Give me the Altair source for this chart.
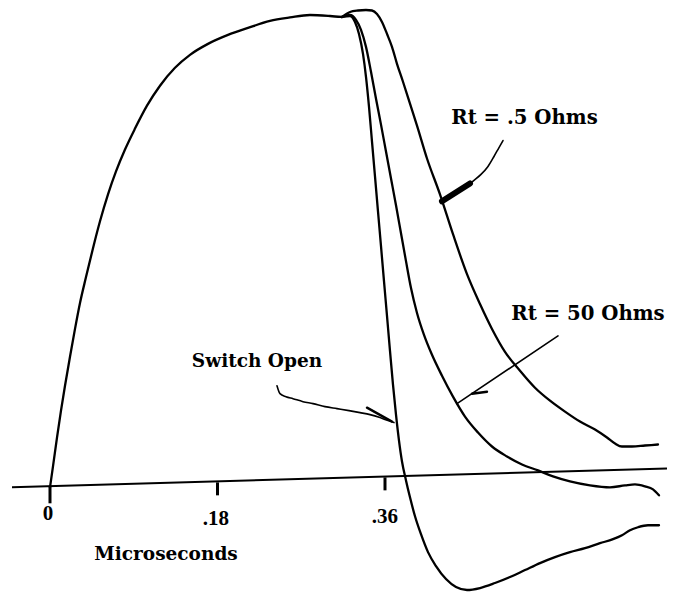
import altair as alt
import pandas as pd

# ---------------- data (time in microseconds, amplitude in arbitrary units) ----------------
rise_t = [0.0, 0.00322, 0.00752, 0.01182, 0.01612, 0.02149, 0.02687, 0.03224, 0.03869, 0.04621,
          0.05373, 0.06233, 0.07092, 0.08060, 0.09134, 0.10424, 0.11821, 0.13433, 0.15045, 0.16979,
          0.19128, 0.21277, 0.23642, 0.25791, 0.27940, 0.30089, 0.31379]
rise_v = [0.0, 4.2, 10.0, 15.4, 20.4, 26.2, 31.8, 37.0, 42.2, 48.0,
          53.4, 58.8, 63.4, 67.8, 72.0, 76.6, 80.6, 84.2, 86.8, 89.0,
          90.8, 92.2, 93.6, 94.3, 94.8, 94.6, 94.4]

r05_t = [0.31379, 0.32239, 0.33098, 0.33958, 0.34603, 0.35140, 0.35677, 0.36215, 0.36752, 0.37289,
         0.37934, 0.38686, 0.39439, 0.40513, 0.41910, 0.43307, 0.44812, 0.46209, 0.47498, 0.48895,
         0.50507, 0.52119, 0.53731, 0.55343, 0.56955, 0.58567, 0.59856, 0.60716, 0.61468, 0.62543,
         0.63940, 0.65337]
r05_v = [94.4, 95.4, 95.7, 95.8, 95.7, 95.0, 93.4, 91.0, 88.4, 85.0,
         81.4, 77.0, 72.6, 66.0, 58.8, 50.8, 42.8, 36.8, 31.8, 27.2,
         23.4, 20.0, 17.4, 15.2, 13.2, 11.6, 10.0, 8.8, 8.2, 8.2,
         8.4, 8.6]

r50_t = [0.31379, 0.32239, 0.32883, 0.33421, 0.33958, 0.34495, 0.35033, 0.35570, 0.36107, 0.36645,
         0.37182, 0.37719, 0.38256, 0.38794, 0.39439, 0.40191, 0.41050, 0.42125, 0.43307, 0.44597,
         0.45994, 0.47498, 0.49110, 0.50722, 0.52441, 0.54053, 0.55880, 0.58029, 0.60179, 0.61791,
         0.62866, 0.63940, 0.64800, 0.65444]
r50_v = [94.4, 94.8, 93.8, 91.8, 88.4, 83.4, 78.0, 72.8, 67.4, 62.0,
         56.6, 51.0, 45.4, 40.0, 35.0, 30.6, 26.6, 22.4, 18.2, 14.2,
         11.0, 8.2, 6.2, 4.6, 3.4, 2.2, 1.2, 0.4, 0.0, 0.4,
         0.6, 0.2, -0.4, -1.6]

sw_t = [0.31379, 0.32239, 0.32776, 0.33206, 0.33636, 0.33958, 0.34280, 0.34603, 0.34925, 0.35247,
        0.35570, 0.35892, 0.36215, 0.36537, 0.36859, 0.37182, 0.37504, 0.37827, 0.38256, 0.38686,
        0.39224, 0.39868, 0.40621, 0.41480, 0.42555, 0.43630, 0.44812, 0.46209, 0.47821, 0.49433,
        0.51044, 0.52656, 0.54268, 0.55880, 0.57492, 0.59104, 0.60501, 0.61468, 0.62328, 0.63188,
        0.64262, 0.65444]
sw_v = [94.4, 94.6, 93.4, 91.0, 87.0, 82.4, 76.4, 69.4, 62.4, 55.4,
        48.4, 41.4, 34.4, 27.4, 20.6, 14.6, 9.4, 5.2, 1.4, -2.0,
        -5.8, -9.4, -13.0, -15.8, -18.4, -20.0, -20.6, -20.2, -19.2, -18.0,
        -16.6, -15.2, -14.0, -13.0, -12.2, -11.2, -10.4, -9.6, -8.6, -8.0,
        -7.6, -7.6]

# baseline (time axis) drawn as a slightly tilted line, as in the scan
base_t = [-0.04084, 0.66304]
base_v = [0.0, 3.8]

tick_t = [0.0, 0.18, 0.36]
tick_v1 = [0.2, 1.0, 2.0]
tick_v2 = [-3.2, -1.6, -0.6]
tick_labels = ["0", ".18", ".36"]
tick_label_t = [-0.00215, 0.17839, 0.36]
tick_label_v = [-5.4, -6.4, -6.0]

rt_notes = ["Rt = .5 Ohms", "Rt = 50 Ohms"]
rt_note_t = [0.50991, 0.57815]
rt_note_v = [74.2, 34.8]
notes = ["Switch Open", "Microseconds"]
note_t = [0.22245, 0.12466]
note_v = [25.4, -13.4]

arr05_t = [0.48680, 0.48250, 0.47713, 0.47068, 0.46316, 0.45564, 0.44919]
arr05_v = [69.6, 68.2, 66.4, 64.4, 62.8, 61.6, 60.6]
arr05_head_t = [0.45134, 0.42125]
arr05_head_v = [61.0, 57.4]

arr50_t = [0.54591, 0.43737]
arr50_v = [30.4, 16.8]
arr50_barb_t = [0.45349, 0.46961]
arr50_barb_v = [18.8, 19.2]

arrsw_t = [0.24394, 0.24716, 0.25361, 0.26113, 0.27188, 0.28262, 0.29552, 0.30842, 0.32131,
           0.33313, 0.34388, 0.35463, 0.36322, 0.36967]
arrsw_v = [20.4, 18.8, 18.2, 17.8, 17.2, 16.8, 16.2, 15.8, 15.4, 15.0, 14.6, 14.0, 13.4, 13.0]
arrsw_barb_t = [0.34065, 0.36752]
arrsw_barb_v = [16.0, 13.2]

# ---------------- tables ----------------
def path(name, ts, vs):
    return [{"t": a, "v": b, "curve": name, "i": k} for k, (a, b) in enumerate(zip(ts, vs))]

curves = pd.DataFrame(path("rise", rise_t, rise_v) + path("Rt = .5 Ohms", r05_t, r05_v)
                      + path("Rt = 50 Ohms", r50_t, r50_v) + path("Switch Open", sw_t, sw_v))
arrows = pd.DataFrame(path("a05", arr05_t, arr05_v) + path("a50", arr50_t, arr50_v)
                      + path("asw", arrsw_t, arrsw_v))
barbs = pd.DataFrame(path("b50", arr50_barb_t, arr50_barb_v) + path("bsw", arrsw_barb_t, arrsw_barb_v))
head05 = pd.DataFrame(path("h05", arr05_head_t, arr05_head_v))
base = pd.DataFrame({"t": [base_t[0]], "v": [base_v[0]], "t2": [base_t[1]], "v2": [base_v[1]]})
ticks = pd.DataFrame({"t": tick_t, "v": tick_v1, "v2": tick_v2})
tlabels = pd.DataFrame({"t": tick_label_t, "v": tick_label_v, "label": tick_labels})
rtdf = pd.DataFrame({"t": rt_note_t, "v": rt_note_v, "label": rt_notes})
ndf = pd.DataFrame({"t": note_t, "v": note_v, "label": notes})

XS = alt.Scale(domain=[-0.04513, 0.66842], nice=False, zero=False)
YS = alt.Scale(domain=[-21.4, 95.8], nice=False, zero=False)
X = alt.X("t:Q", scale=XS, axis=None)
Y = alt.Y("v:Q", scale=YS, axis=None)

curve_layer = alt.Chart(curves).mark_line(color="black", strokeWidth=2.3, strokeJoin="round",
                                          strokeCap="round", interpolate="monotone").encode(
    x=X, y=Y, detail="curve:N", order="i:Q")
arrow_layer = alt.Chart(arrows).mark_line(color="black", strokeWidth=1.6, strokeCap="round",
                                          interpolate="monotone").encode(
    x=X, y=Y, detail="curve:N", order="i:Q")
barb_layer = alt.Chart(barbs).mark_line(color="black", strokeWidth=2.4, strokeCap="round").encode(
    x=X, y=Y, detail="curve:N", order="i:Q")
head_layer = alt.Chart(head05).mark_line(color="black", strokeWidth=6, strokeCap="round").encode(
    x=X, y=Y, order="i:Q")
base_layer = alt.Chart(base).mark_rule(color="black", strokeWidth=2).encode(
    x=X, y=Y, x2="t2:Q", y2="v2:Q")
tick_layer = alt.Chart(ticks).mark_rule(color="black", strokeWidth=3).encode(
    x=X, y=Y, y2="v2:Q")
tlabel_layer = alt.Chart(tlabels).mark_text(font="Liberation Serif", fontSize=21, fontWeight="bold",
                                            baseline="middle", align="center").encode(
    x=X, y=Y, text="label:N")
rt_layer = alt.Chart(rtdf).mark_text(font="DejaVu Serif", fontSize=19.7, fontWeight="bold",
                                     baseline="middle", align="center").encode(
    x=X, y=Y, text="label:N")
note_layer = alt.Chart(ndf).mark_text(font="DejaVu Serif", fontSize=18.5, fontWeight="bold",
                                      baseline="middle", align="center").encode(
    x=X, y=Y, text="label:N")

chart = alt.layer(base_layer, tick_layer, curve_layer, arrow_layer, barb_layer, head_layer,
                  tlabel_layer, rt_layer, note_layer).properties(
    width=664, height=586, padding=0,
    autosize=alt.AutoSizeParams(type="fit", contains="padding"),
    background="white",
).configure_view(stroke=None)

chart.save("out.html", embed_options={"renderer": "svg", "actions": False})
